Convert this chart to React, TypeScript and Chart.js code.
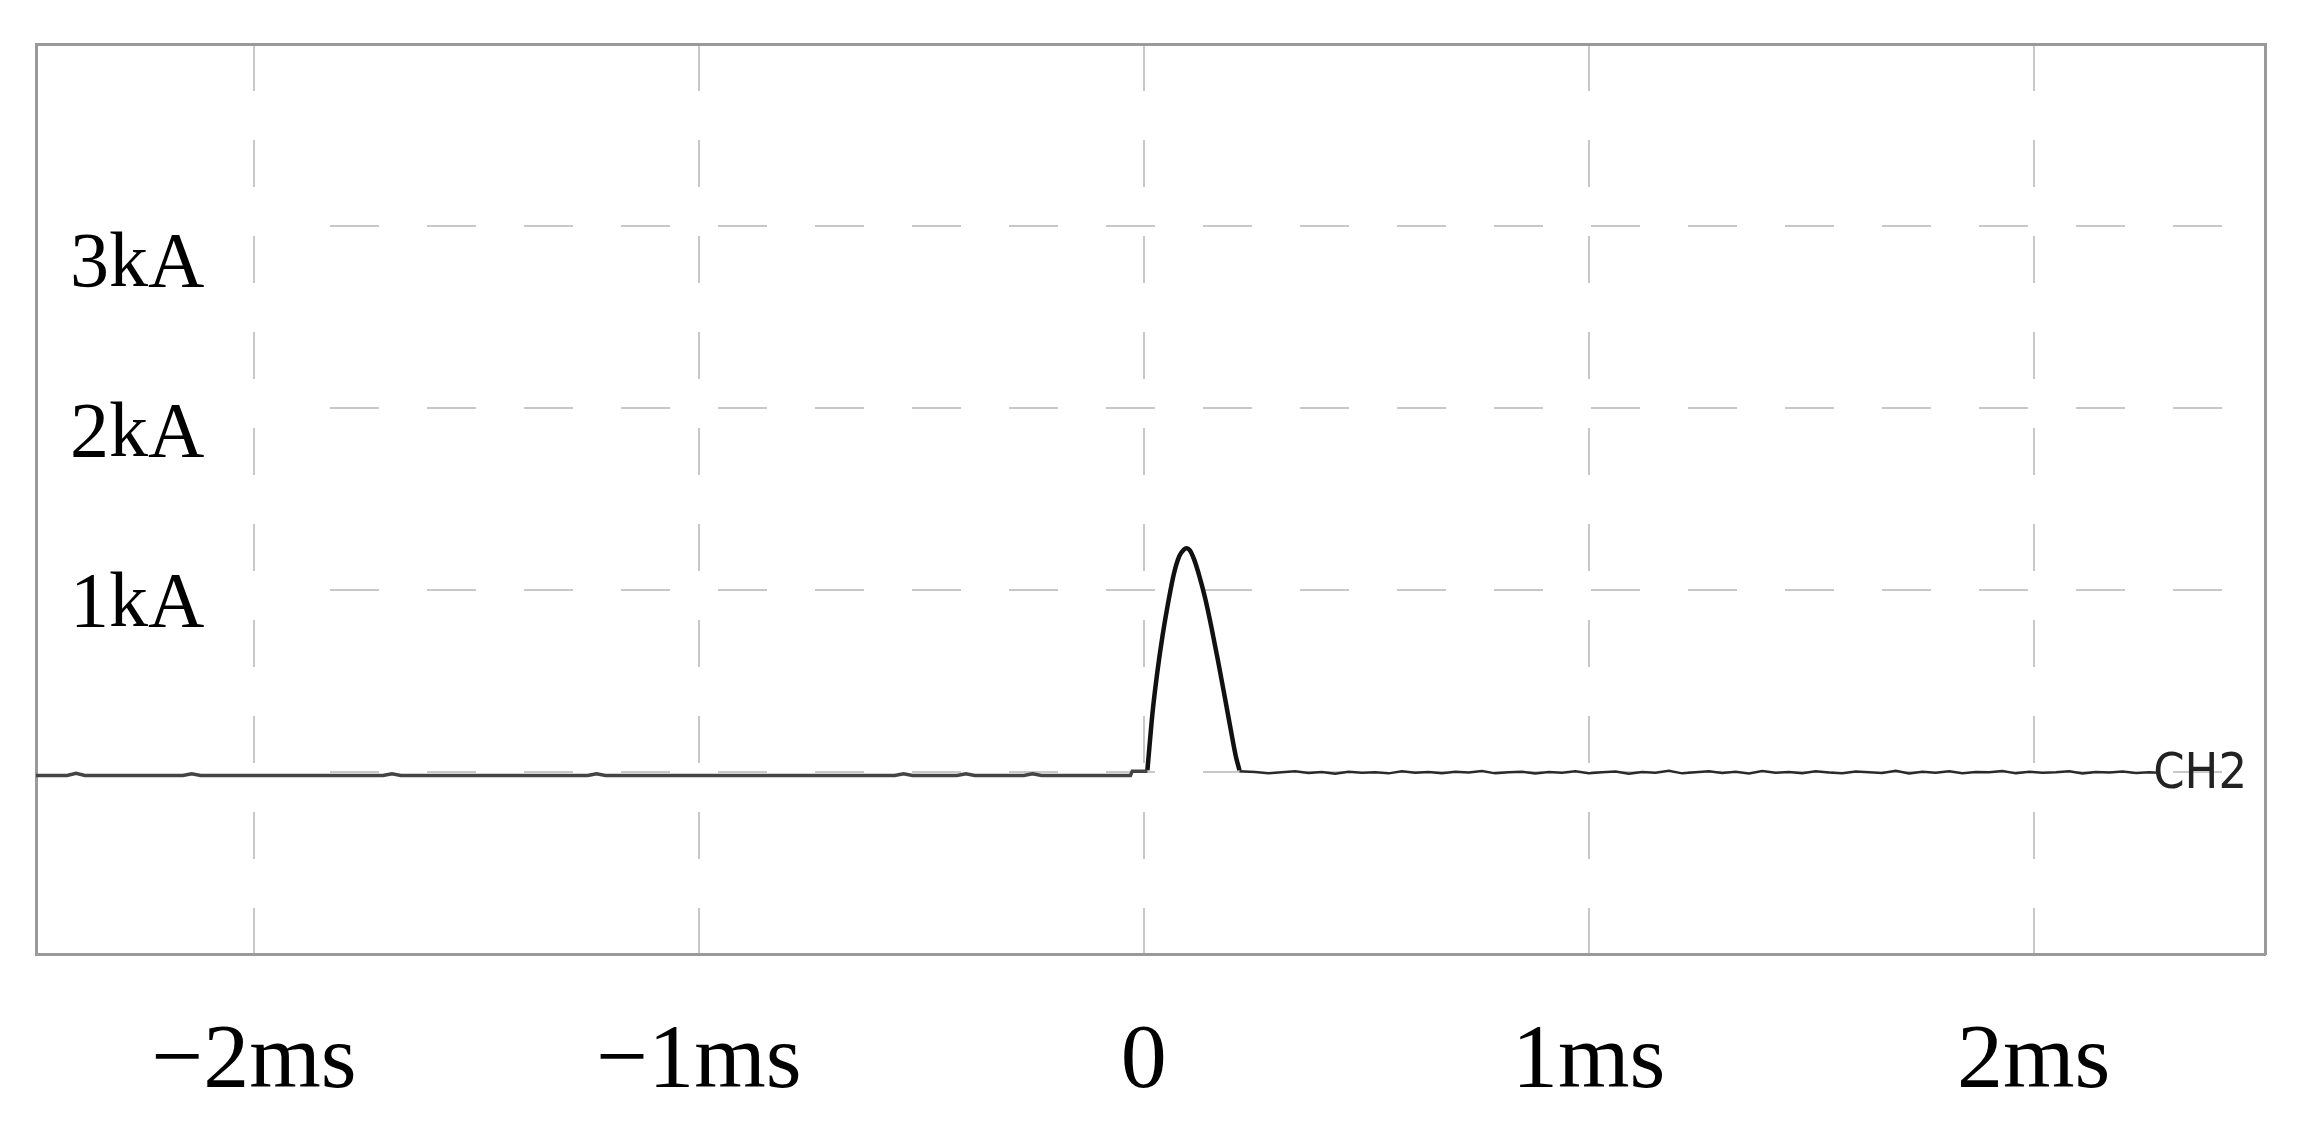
import React, { useEffect, useRef } from 'react';
import { Chart, registerables } from 'chart.js';

Chart.register(...registerables);

// ---- axis ticks / labels ----
const xTickValues = [-2, -1, 0, 1, 2];
const xTickLabels = ['−2ms', '−1ms', '0', '1ms', '2ms'];
const yTickValues = [1, 2, 3];
const yTickLabels = ['1kA', '2kA', '3kA'];
const channelLabel = 'CH2';
const channelLevel = 0;

// ---- axis ranges (ms, kA, screen divisions) ----
const xMin = -2.49;
const xMax = 2.52;
const yMin = -1.05;
const yMax = 4.3;
const divisionCount = 5;

// ---- trace before trigger (ms, kA) ----
const preTimes = [-2.49, -2.42, -2.4, -2.38, -2.16, -2.14, -2.12, -1.71, -1.69, -1.67, -1.25, -1.23, -1.21, -0.56, -0.54, -0.52, -0.42, -0.4, -0.38, -0.27, -0.25, -0.23, -0.03, -0.026, 0.006, 0.008];
const preValues = [0, 0, 0.012, 0, 0, 0.01, 0, 0, 0.01, 0, 0, 0.01, 0, 0, 0.01, 0, 0, 0.01, 0, 0, 0.01, 0, 0, 0.025, 0.025, 0.025];

// ---- current pulse (ms, kA) ----
const pulseTimes = [0.008, 0.013, 0.02, 0.03, 0.042, 0.055, 0.068, 0.08, 0.09, 0.096, 0.103, 0.113, 0.125, 0.138, 0.152, 0.167, 0.182, 0.196, 0.207, 0.215];
const pulseValues = [0.03, 0.18, 0.38, 0.6, 0.82, 1.02, 1.19, 1.29, 1.328, 1.335, 1.325, 1.27, 1.17, 1.04, 0.87, 0.67, 0.46, 0.26, 0.11, 0.03];

// ---- trace after pulse (ms, kA) ----
const postTimes = [0.215, 0.25, 0.28, 0.31, 0.34, 0.37, 0.4, 0.43, 0.46, 0.49, 0.52, 0.55, 0.58, 0.61, 0.64, 0.67, 0.7, 0.73, 0.76, 0.79, 0.82, 0.85, 0.88, 0.91, 0.94, 0.97, 1.0, 1.03, 1.06, 1.09, 1.12, 1.15, 1.18, 1.21, 1.24, 1.27, 1.3, 1.33, 1.36, 1.39, 1.42, 1.45, 1.48, 1.51, 1.54, 1.57, 1.6, 1.63, 1.66, 1.69, 1.72, 1.75, 1.78, 1.81, 1.84, 1.87, 1.9, 1.93, 1.96, 1.99, 2.02, 2.05, 2.08, 2.11, 2.14, 2.17, 2.2, 2.23, 2.26, 2.28];
const postValues = [0.025, 0.02, 0.012, 0.018, 0.025, 0.014, 0.02, 0.01, 0.022, 0.016, 0.019, 0.012, 0.024, 0.015, 0.02, 0.013, 0.021, 0.017, 0.026, 0.012, 0.018, 0.022, 0.011, 0.02, 0.016, 0.025, 0.013, 0.019, 0.023, 0.01, 0.02, 0.015, 0.027, 0.012, 0.018, 0.024, 0.014, 0.021, 0.011, 0.026, 0.016, 0.02, 0.013, 0.025, 0.017, 0.012, 0.023, 0.019, 0.014, 0.027, 0.011, 0.021, 0.016, 0.024, 0.013, 0.02, 0.018, 0.026, 0.012, 0.022, 0.015, 0.019, 0.025, 0.011, 0.02, 0.017, 0.023, 0.014, 0.018, 0.016];

const SERIF = '"Liberation Serif", "Times New Roman", Times, serif';
const SANS_NARROW = '"Liberation Sans Narrow", "DejaVu Sans Condensed", "Liberation Sans", Arial, sans-serif';
const FRAME = '#9a9a9a';
const GRID = '#c8c8c8';

const W = 2316;
const H = 1144;
const X_AXIS_HEIGHT = 155;

// dash pattern for horizontal division lines: blank under the labels, then regular dashes
const hDash: number[] = (() => {
  const a = [0, 292];
  for (let i = 0; i < 22; i++) a.push(49, 48);
  a.push(0, 4000);
  return a;
})();
const vDash = [47, 49];

const toPoints = (xs: number[], ys: number[]) => xs.map((x, i) => ({ x, y: ys[i] }));

const noPad = (s: any) => {
  s.paddingLeft = 0;
  s.paddingRight = 0;
  s.paddingTop = 0;
  s.paddingBottom = 0;
};
const fitVertical = (s: any) => {
  noPad(s);
  s.width = 0;
};
const fitTop = (s: any) => {
  noPad(s);
  s.height = 0;
};
const fitBottom = (s: any) => {
  noPad(s);
  s.height = X_AXIS_HEIGHT;
};

export default function App() {
  const ref = useRef<HTMLCanvasElement | null>(null);

  useEffect(() => {
    const canvas = ref.current;
    if (!canvas) return;
    const chart = new Chart(canvas, {
      type: 'line',
      data: {
        datasets: [
          {
            label: 'pre',
            data: toPoints(preTimes, preValues),
            borderColor: '#444',
            borderWidth: 3.5,
            pointRadius: 0,
            tension: 0,
            xAxisID: 'x',
            yAxisID: 'y',
          },
          {
            label: 'pulse',
            data: toPoints(pulseTimes, pulseValues),
            borderColor: '#111',
            borderWidth: 4.5,
            pointRadius: 0,
            cubicInterpolationMode: 'monotone',
            borderJoinStyle: 'round',
            xAxisID: 'x',
            yAxisID: 'y',
          },
          {
            label: 'post',
            data: toPoints(postTimes, postValues),
            borderColor: '#2a2a2a',
            borderWidth: 2.5,
            pointRadius: 0,
            tension: 0,
            xAxisID: 'x',
            yAxisID: 'y',
          },
        ],
      },
      options: {
        animation: false,
        responsive: false,
        devicePixelRatio: 1,
        events: [],
        layout: { padding: { left: 36, top: 44, right: 51, bottom: 35 } },
        plugins: { legend: { display: false }, tooltip: { enabled: false } },
        scales: {
          x: {
            type: 'linear',
            position: 'bottom',
            min: xMin,
            max: xMax,
            afterBuildTicks: (s: any) => {
              s.ticks = xTickValues.map((v) => ({ value: v }));
            },
            afterFit: fitBottom,
            ticks: {
              autoSkip: false,
              maxRotation: 0,
              padding: 63,
              color: '#000',
              font: { family: SERIF, size: 92, lineHeight: 1 },
              callback: (_v: any, i: number) => xTickLabels[i],
            },
            grid: { display: true, color: GRID, lineWidth: 2, drawTicks: false },
            border: { display: true, color: FRAME, width: 3, dash: vDash },
          },
          xTop: {
            type: 'linear',
            position: 'top',
            min: xMin,
            max: xMax,
            afterFit: fitTop,
            ticks: { display: false },
            grid: { display: false, drawTicks: false },
            border: { display: true, color: FRAME, width: 3 },
          },
          yGrid: {
            type: 'linear',
            position: 'left',
            min: 0,
            max: divisionCount,
            afterFit: fitVertical,
            ticks: { display: false, stepSize: 1 },
            grid: { display: true, color: GRID, lineWidth: 2, drawTicks: false },
            border: { display: true, color: FRAME, width: 3, dash: hDash },
          },
          y: {
            type: 'linear',
            position: 'left',
            min: yMin,
            max: yMax,
            afterBuildTicks: (s: any) => {
              s.ticks = yTickValues.map((v) => ({ value: v }));
            },
            afterFit: fitVertical,
            ticks: {
              mirror: true,
              padding: 34,
              autoSkip: false,
              color: '#000',
              font: { family: SERIF, size: 78, lineHeight: 1 },
              callback: (_v: any, i: number) => yTickLabels[i],
            },
            grid: { display: false, drawTicks: false },
            border: { display: false },
          },
          yRight: {
            type: 'linear',
            position: 'right',
            min: yMin,
            max: yMax,
            afterBuildTicks: (s: any) => {
              s.ticks = [{ value: channelLevel }];
            },
            afterFit: fitVertical,
            ticks: {
              mirror: true,
              padding: -18,
              autoSkip: false,
              color: '#222',
              font: { family: SANS_NARROW, size: 50, lineHeight: 1 },
              callback: () => channelLabel,
            },
            grid: { display: false, drawTicks: false },
            border: { display: true, color: FRAME, width: 3 },
          },
        },
      } as any,
    });
    return () => chart.destroy();
  }, []);

  return (
    <div style={{ position: 'fixed', left: 0, top: 0, width: W, height: H, background: '#fff' }}>
      <canvas ref={ref} width={W} height={H} style={{ display: 'block', width: W, height: H }} />
    </div>
  );
}
